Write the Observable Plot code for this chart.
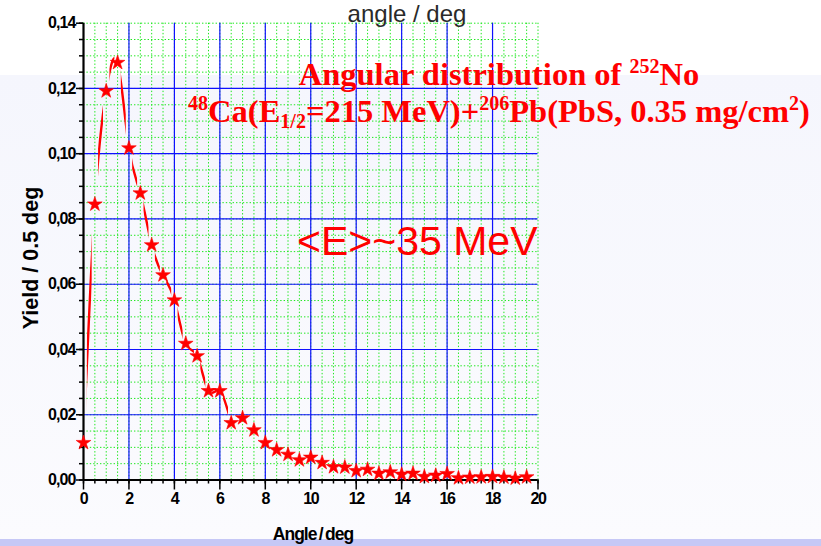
<!DOCTYPE html>
<html>
<head>
<meta charset="utf-8">
<script src="https://cdn.jsdelivr.net/npm/d3@7"></script>
<script src="https://cdn.jsdelivr.net/npm/@observablehq/plot@0.6"></script>
<style>
  html, body { margin: 0; padding: 0; background: #fff; }
  #wrap { position: relative; width: 821px; height: 546px; overflow: hidden; }
  .bg { position: absolute; left: 0; width: 821px; }
  #chart, #overlay { position: absolute; left: 0; top: 0; }
  g[aria-label="y-axis tick label"] text { letter-spacing: -0.9px; font-size: 16px; }
  g[aria-label="x-axis tick label"] text { letter-spacing: -1.4px; font-size: 16px; }
</style>
</head>
<body>
<div id="wrap">
  <div class="bg" style="top:0;height:75px;background:#ffffff"></div>
  <div class="bg" style="top:75px;height:464px;background:linear-gradient(#f5f6fd,#fbfbfe)"></div>
  <div class="bg" style="top:539px;height:7px;background:#c6c8f6"></div>
  <div id="chart"></div>
  <svg id="overlay" width="821" height="546"></svg>
</div>
<script>
// ---- data ----
const angles = [0, 0.5, 1, 1.5, 2, 2.5, 3, 3.5, 4, 4.5, 5, 5.5, 6, 6.5, 7, 7.5, 8, 8.5, 9, 9.5,
                10, 10.5, 11, 11.5, 12, 12.5, 13, 13.5, 14, 14.5, 15, 15.5, 16, 16.5, 17, 17.5, 18, 18.5, 19, 19.5];
const yields = [0.0114, 0.0845, 0.1192, 0.1279, 0.1017, 0.0879, 0.0720, 0.0628, 0.0551, 0.0418,
                0.0380, 0.0273, 0.0273, 0.0175, 0.0190, 0.0153, 0.0114, 0.0092, 0.0078, 0.0061,
                0.0069, 0.0053, 0.0040, 0.0039, 0.0028, 0.0032, 0.0020, 0.0024, 0.0017, 0.0020,
                0.0010, 0.0014, 0.0019, 0.0006, 0.0008, 0.0009, 0.0010, 0.0008, 0.0005, 0.0009];
const lineLastAngle = 6.5;   // the connecting spline is drawn up to this point

const xTicks = [0, 2, 4, 6, 8, 10, 12, 14, 16, 18, 20];
const xMinorTicks = d3.range(0, 20.001, 0.5);
const yTicks = [0, 0.02, 0.04, 0.06, 0.08, 0.10, 0.12, 0.14];
const yMinorTicks = d3.range(0, 0.1401, 0.005);
const xMajorGrid = [2, 4, 6, 8, 10, 12, 14, 16, 18];
const yMajorGrid = [0.02, 0.04, 0.06, 0.08, 0.10, 0.12];

const points = angles.map((a, i) => ({angle: a, yield: yields[i]}));
const linePoints = points.filter(d => d.angle <= lineLastAngle);

const fmtY = v => d3.format(".2f")(v).replace(".", ",");

const plot = Plot.plot({
  width: 821,
  height: 546,
  marginLeft: 83,
  marginRight: 283.5,
  marginTop: 22.7,
  marginBottom: 66.5,
  x: {domain: [0, 20]},
  y: {domain: [0, 0.14]},
  style: {background: "transparent", fontFamily: "'Liberation Sans', Arial, sans-serif", fontSize: "16px", fontWeight: "bold", color: "#000"},
  marks: [
    Plot.gridX(xMinorTicks, {stroke: "#1ee81e", strokeOpacity: 1, strokeWidth: 1, strokeDasharray: "1.4,2"}),
    Plot.gridY(yMinorTicks, {stroke: "#1ee81e", strokeOpacity: 1, strokeWidth: 1, strokeDasharray: "1.4,2"}),
    Plot.gridX(xMajorGrid, {stroke: "#1010ff", strokeOpacity: 1, strokeWidth: 1.2}),
    Plot.gridY(yMajorGrid, {stroke: "#1010ff", strokeOpacity: 1, strokeWidth: 1.2}),
    Plot.axisY(yMinorTicks, {tickSize: 4, tickFormat: () => "", label: null, strokeWidth: 1.5}),
    Plot.axisY(yTicks, {tickSize: 7, tickPadding: 1, tickFormat: fmtY, label: null, strokeWidth: 1.5}),
    Plot.axisX(xMinorTicks, {tickSize: 4, tickFormat: () => "", label: null, strokeWidth: 1.5}),
    Plot.axisX(xTicks, {tickSize: 10, tickPadding: 3, tickFormat: d => String(d), label: null, strokeWidth: 1.5}),
    Plot.ruleX([0], {stroke: "#000", strokeWidth: 2.2}),
    Plot.ruleY([0], {stroke: "#000", strokeWidth: 2.2}),
    Plot.line(linePoints, {x: "angle", y: "yield", curve: "natural", stroke: "#ff0000", strokeWidth: 2.4}),
    Plot.dot(points, {x: "angle", y: "yield", symbol: "star", fill: "#ff0000", stroke: "#ff0000", strokeWidth: 0.6, r: 4.6})
  ]
});
document.getElementById("chart").appendChild(plot);

// break the connecting line next to each symbol (gap-to-symbol, as in the original)
const sx = plot.scale("x");
const gap = 3.2;
const ns = "http://www.w3.org/2000/svg";
const defs = document.createElementNS(ns, "defs");
const cp = document.createElementNS(ns, "clipPath");
cp.setAttribute("id", "gapclip");
for (let i = 0; i < linePoints.length - 1; i++) {
  const a = sx.apply(linePoints[i].angle) + gap;
  const b = sx.apply(linePoints[i + 1].angle) - gap;
  if (b > a) {
    const r = document.createElementNS(ns, "rect");
    r.setAttribute("x", a); r.setAttribute("y", 0);
    r.setAttribute("width", b - a); r.setAttribute("height", 546);
    cp.appendChild(r);
  }
}
defs.appendChild(cp);
plot.insertBefore(defs, plot.firstChild);
const lineG = plot.querySelector('g[aria-label="line"]');
if (lineG) lineG.setAttribute("clip-path", "url(#gapclip)");

// ---- annotations ----
const sans = "'Liberation Sans', Arial, sans-serif";
const ov = d3.select("#overlay");
ov.append("text").attr("x", 407).attr("y", 22).attr("text-anchor", "middle")
  .attr("font-family", sans).attr("font-size", 24).attr("fill", "#2a2a2a")
  .text("angle / deg");

const serif = "'Liberation Serif', 'Times New Roman', serif";
const t1 = ov.append("text").attr("x", 499).attr("y", 85).attr("text-anchor", "middle")
  .attr("font-family", serif).attr("font-size", 32.5).attr("font-weight", "bold").attr("fill", "#ff0000");
t1.append("tspan").text("Angular distribution of ");
t1.append("tspan").attr("font-size", 20).attr("dy", -12).text("252");
t1.append("tspan").attr("dy", 12).text("No");

const t2 = ov.append("text").attr("x", 499).attr("y", 122).attr("text-anchor", "middle")
  .attr("font-family", serif).attr("font-size", 32.5).attr("font-weight", "bold").attr("fill", "#ff0000");
t2.append("tspan").attr("font-size", 20).attr("dy", -12).text("48");
t2.append("tspan").attr("dy", 12).text("Ca(E");
t2.append("tspan").attr("font-size", 20).attr("dy", 6).text("1/2");
t2.append("tspan").attr("dy", -6).text("=215 MeV)+");
t2.append("tspan").attr("font-size", 20).attr("dy", -12).text("206");
t2.append("tspan").attr("dy", 12).text("Pb(PbS, 0.35 mg/cm");
t2.append("tspan").attr("font-size", 20).attr("dy", -12).text("2");
t2.append("tspan").attr("dy", 12).text(")");

ov.append("text").attr("x", 297).attr("y", 255)
  .attr("font-family", sans).attr("font-size", 41).attr("fill", "#ff0000")
  .text("<E>~35 MeV");

ov.append("text").attr("transform", "translate(38,258) rotate(-90)").attr("text-anchor", "middle")
  .attr("font-family", sans).attr("font-size", 21.5).attr("font-weight", "bold")
  .attr("fill", "#000").text("Yield / 0.5 deg");

ov.append("text").attr("x", 313).attr("y", 540).attr("text-anchor", "middle")
  .attr("font-family", sans).attr("font-size", 17.5).attr("font-weight", "bold")
  .attr("letter-spacing", -1).attr("word-spacing", -1.5).attr("fill", "#000").text("Angle / deg");
</script>
</body>
</html>
